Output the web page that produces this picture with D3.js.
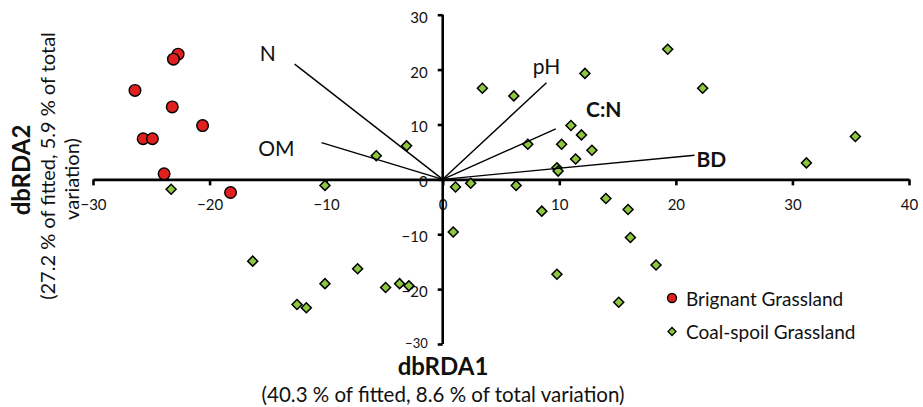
<!DOCTYPE html>
<html><head><meta charset="utf-8">
<script src="https://cdn.jsdelivr.net/npm/d3@7"></script>
<style>
body{margin:0;background:#fff}
svg{display:block}
text{font-family:Lato,"Open Sans",sans-serif;fill:#111}
</style>
</head><body>
<svg id="chart" width="923" height="407"></svg>
<script>
// ---- data ----
const seriesNames = ["Brignant Grassland", "Coal-spoil Grassland"];
const brignantX = [-22.7, -23.1, -26.4, -23.2, -20.6, -25.7, -24.9, -23.9, -18.2];
const brignantY = [22.8, 21.9, 16.2, 13.2, 9.8, 7.4, 7.4, 1.0, -2.4];
const coalX = [-23.3, -10.1, -5.7, -3.1, 1.1, 19.3, 12.2, 3.4, 6.1, 22.3, 11.0, 11.9, 7.3, 10.2, 12.8, 11.4, 9.8, 9.9, 35.4, 31.2, 2.4, 6.3, 14.0, 15.9, 8.5, 0.9, 16.1, -16.3, -7.3, -10.1, -4.9, -3.7, -2.9, -12.5, -11.7, 9.8, 15.1, 18.3];
const coalY = [-1.8, -1.1, 4.3, 6.1, -1.4, 23.7, 19.3, 16.6, 15.2, 16.6, 9.8, 8.1, 6.4, 6.4, 5.3, 3.7, 2.1, 1.5, 7.8, 3.0, -0.7, -1.1, -3.5, -5.5, -5.8, -9.6, -10.6, -14.9, -16.3, -19.0, -19.7, -19.0, -19.4, -22.8, -23.4, -17.3, -22.4, -15.6];
const vectorNames = ["N", "OM", "pH", "C:N", "BD"];
const vectorX = [-12.7, -10.4, 8.9, 9.7, 21.6];
const vectorY = [21.0, 6.7, 17.6, 9.2, 4.4];
const xTicks = [-30, -20, -10, 0, 10, 20, 30, 40];
const yTicks = [-30, -20, -10, 0, 10, 20, 30];
const xTitle = "dbRDA1";
const xSubtitle = "(40.3 % of fitted, 8.6 % of total variation)";
const yTitle = "dbRDA2";
const ySubtitle1 = "(27.2 % of fitted, 5.9 % of total";
const ySubtitle2 = "variation)";

// ---- layout / style ----
const RED = "#E0201E", GREEN = "#8DC63F";
const labelLayout = {
  "N":   {dx: -27, dy: -12, anchor: "middle", weight: "normal"},
  "OM":  {dx: -45, dy: 5, anchor: "middle", weight: "normal"},
  "pH":  {dx: 0, dy: -17, anchor: "middle", weight: "normal"},
  "C:N": {dx: 48, dy: -20, anchor: "middle", weight: "bold"},
  "BD":  {dx: 2, dy: 3, anchor: "start", weight: "bold"}
};

const svg = d3.select("#chart");
const x = d3.scaleLinear().domain([-30, 40]).range([93, 909]);
const y = d3.scaleLinear().domain([-30, 30]).range([344, 14.7]);

// axes
const xAxis = svg.append("g").attr("transform", `translate(0,${y(0)})`)
  .call(d3.axisBottom(x).tickValues(xTicks).tickSize(6).tickSizeOuter(0).tickPadding(14).tickFormat(d3.format("d")));
const yAxis = svg.append("g").attr("transform", `translate(${x(0)},0)`)
  .call(d3.axisLeft(y).tickValues(yTicks).tickSize(5).tickSizeOuter(0).tickPadding(10).tickFormat(d3.format("d")));
[xAxis, yAxis].forEach(g => {
  g.select(".domain").attr("stroke", "#000").attr("stroke-width", 2.6);
  g.selectAll(".tick line").attr("stroke", "#000").attr("stroke-width", 2.6);
  g.selectAll(".tick text").style("font-family", "Lato, sans-serif").style("font-size", "15px").attr("fill", "#222");
});
yAxis.selectAll(".tick text").attr("dy", "0.5em");
xAxis.selectAll(".tick text").attr("dy", "0.7em");
// bottom-most y label is drawn smaller/condensed in the reference
yAxis.selectAll(".tick").filter(d => d === yTicks[0]).select("text")
  .style("font-size", "13px").attr("dy", "0.3em");
yAxis.select(".domain").attr("d", `M0,${y(30)}V${y(-30)}`);

// points
const brignant = brignantX.map((v, i) => ({x: v, y: brignantY[i]}));
const coal = coalX.map((v, i) => ({x: v, y: coalY[i]}));
const diamond = d3.symbol().type(d3.symbolSquare).size(50);

svg.append("g").selectAll("path").data(coal).join("path")
  .attr("d", diamond)
  .attr("transform", d => `translate(${x(d.x)},${y(d.y)}) rotate(45)`)
  .attr("fill", GREEN).attr("stroke", "#000").attr("stroke-width", 1.5);

svg.append("g").selectAll("circle").data(brignant).join("circle")
  .attr("cx", d => x(d.x)).attr("cy", d => y(d.y)).attr("r", 5.8)
  .attr("fill", RED).attr("stroke", "#000").attr("stroke-width", 1.4);

// vectors
const vectors = vectorNames.map((n, i) => ({name: n, x: vectorX[i], y: vectorY[i]}));
svg.append("g").selectAll("line").data(vectors).join("line")
  .attr("x1", x(0)).attr("y1", y(0))
  .attr("x2", d => x(d.x)).attr("y2", d => y(d.y))
  .attr("stroke", "#000").attr("stroke-width", 1.4);
svg.append("g").selectAll("text").data(vectors).join("text")
  .attr("x", d => x(d.x) + labelLayout[d.name].dx)
  .attr("y", d => y(d.y) + labelLayout[d.name].dy)
  .attr("text-anchor", d => labelLayout[d.name].anchor)
  .attr("dominant-baseline", "central")
  .style("font-size", "21px")
  .style("font-weight", d => labelLayout[d.name].weight)
  .text(d => d.name);

// axis titles
svg.append("text").attr("x", 443).attr("y", 365).attr("text-anchor", "middle")
  .attr("dominant-baseline", "central").style("font-size", "24px").style("font-weight", "bold").text(xTitle);
svg.append("text").attr("x", 443).attr("y", 394).attr("text-anchor", "middle")
  .attr("dominant-baseline", "central").style("font-size", "20.5px").text(xSubtitle);
svg.append("text").attr("transform", "translate(20,170) rotate(-90)").attr("text-anchor", "middle")
  .attr("dominant-baseline", "central").style("font-size", "24px").style("font-weight", "bold").text(yTitle);
svg.append("text").attr("transform", "translate(47,166) rotate(-90)").attr("text-anchor", "middle")
  .attr("dominant-baseline", "central").style("font-size", "20px").text(ySubtitle1);
svg.append("text").attr("transform", "translate(71,179) rotate(-90)").attr("text-anchor", "middle")
  .attr("dominant-baseline", "central").style("font-size", "20px").text(ySubtitle2);

// legend
const legend = svg.append("g").attr("transform", "translate(672,298)");
const li = legend.selectAll("g").data(seriesNames).join("g")
  .attr("transform", (d, i) => `translate(0,${i * 33.5})`);
li.filter((d, i) => i === 0).append("circle").attr("r", 4.5)
  .attr("fill", RED).attr("stroke", "#000").attr("stroke-width", 1.3);
li.filter((d, i) => i === 1).append("path").attr("d", d3.symbol().type(d3.symbolSquare).size(32))
  .attr("transform", "rotate(45)").attr("fill", GREEN).attr("stroke", "#000").attr("stroke-width", 1.3);
li.append("text").attr("x", 14).attr("dominant-baseline", "central")
  .style("font-size", "19px").text(d => d);
</script>
</body></html>
